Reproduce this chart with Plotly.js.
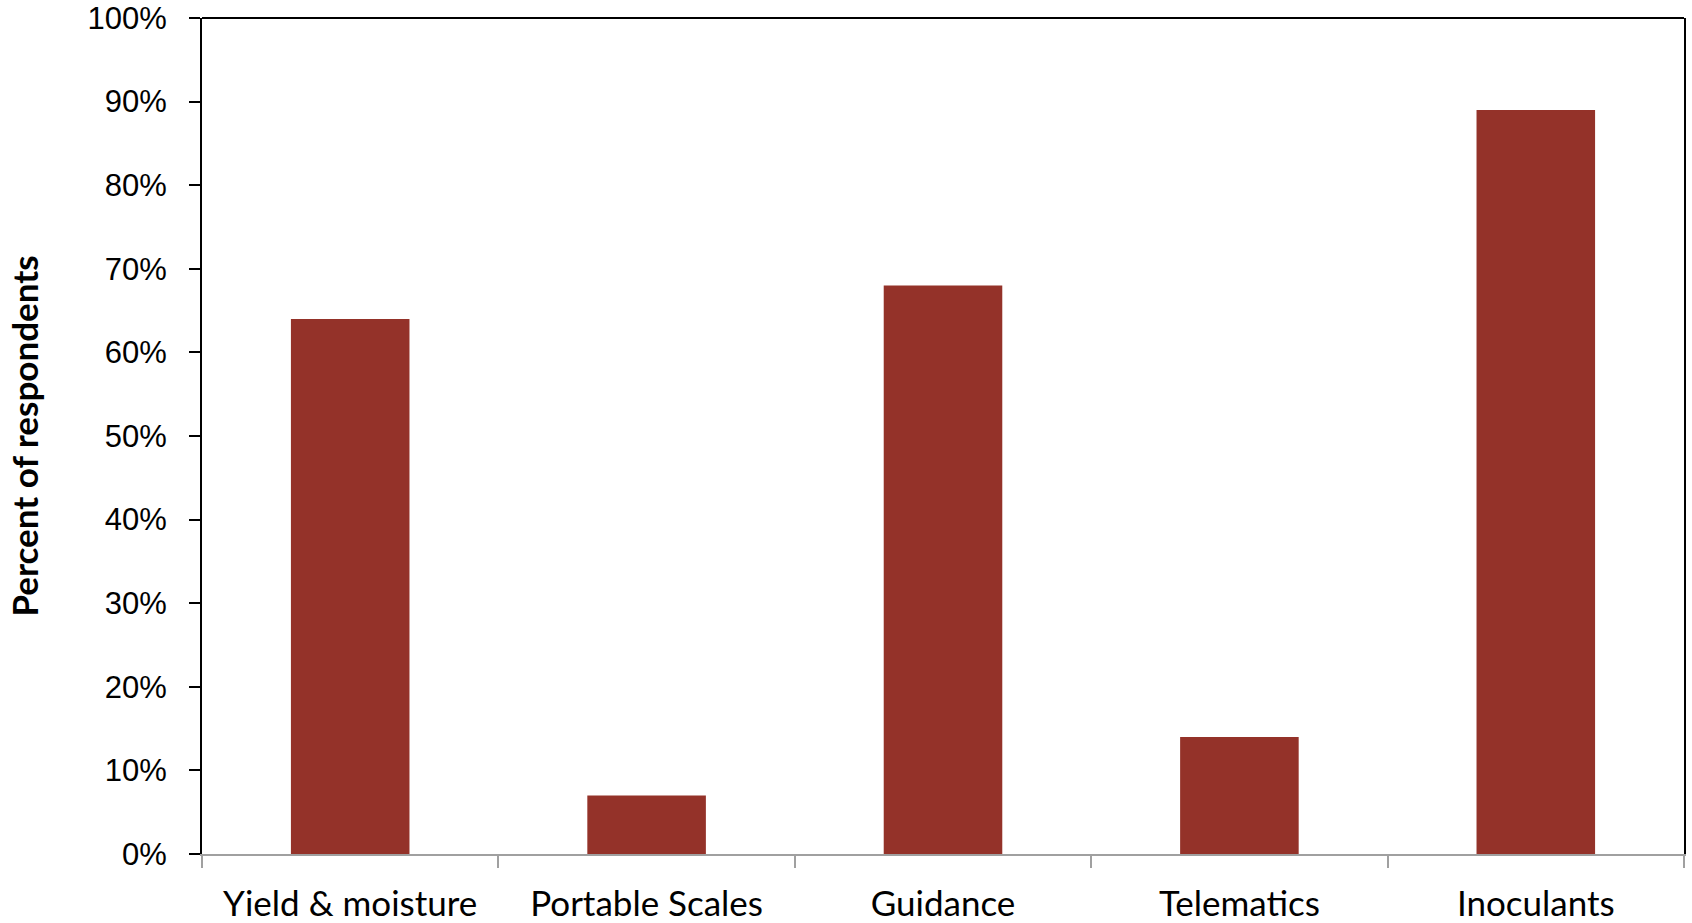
<!DOCTYPE html>
<html>
<head>
<meta charset="utf-8">
<script src="https://cdn.plot.ly/plotly-3.0.1.min.js"></script>
<style>html,body{margin:0;padding:0;background:#fff;}#chart{width:1692px;height:923px;}</style>
</head>
<body>
<div id="chart"></div>
<script>
const categories = ["Yield & moisture", "Portable Scales", "Guidance", "Telematics", "Inoculants"];
const percentValues = [0.64, 0.07, 0.68, 0.14, 0.89];
const yTickValues = [0, 0.1, 0.2, 0.3, 0.4, 0.5, 0.6, 0.7, 0.8, 0.9, 1.0];
const yTickLabels = ["0%", "10%", "20%", "30%", "40%", "50%", "60%", "70%", "80%", "90%", "100%"];
const yTitle = "Percent of respondents";

const fontFamily = "Lato, 'Open Sans', sans-serif";
const tickFontFamily = "'Liberation Sans', Arial, sans-serif";

Plotly.newPlot("chart", [{
  type: "bar",
  x: categories,
  y: percentValues,
  marker: {color: "#943229", line: {width: 0}},
  hoverinfo: "none"
}], {
  width: 1692, height: 923,
  margin: {l: 202, r: 8, t: 18, b: 69, pad: 0},
  paper_bgcolor: "#ffffff",
  plot_bgcolor: "#ffffff",
  bargap: 0.6,
  showlegend: false,
  font: {family: fontFamily, color: "#000", size: 32},
  xaxis: {
    type: "category",
    showgrid: false,
    zeroline: false,
    showline: true,
    linecolor: "#a0a0a0",
    linewidth: 2,
    ticks: "outside",
    tickson: "boundaries",
    ticklen: 12,
    tickwidth: 2,
    tickcolor: "#a0a0a0",
    tickfont: {family: fontFamily, size: 35, color: "#000"},
    ticklabelstandoff: 18,
    ticklabeloverflow: "allow"
  },
  yaxis: {
    range: [0, 1],
    showgrid: false,
    zeroline: false,
    showline: true,
    mirror: true,
    linecolor: "#000",
    linewidth: 2,
    ticks: "outside",
    ticklen: 11,
    tickwidth: 2,
    tickcolor: "#000",
    tickvals: yTickValues,
    ticktext: yTickLabels,
    tickfont: {family: tickFontFamily, size: 31, color: "#000"},
    ticklabelstandoff: 16,
    ticklabeloverflow: "allow",
    title: {text: yTitle, font: {family: fontFamily, size: 35, color: "#000", weight: "bold"}, standoff: 38}
  },
  shapes: [{
    type: "line", xref: "paper", yref: "paper", x0: 0, x1: 1, y0: 1, y1: 1,
    line: {color: "#000", width: 2}
  }]
}, {staticPlot: true, displayModeBar: false});
</script>
</body>
</html>
